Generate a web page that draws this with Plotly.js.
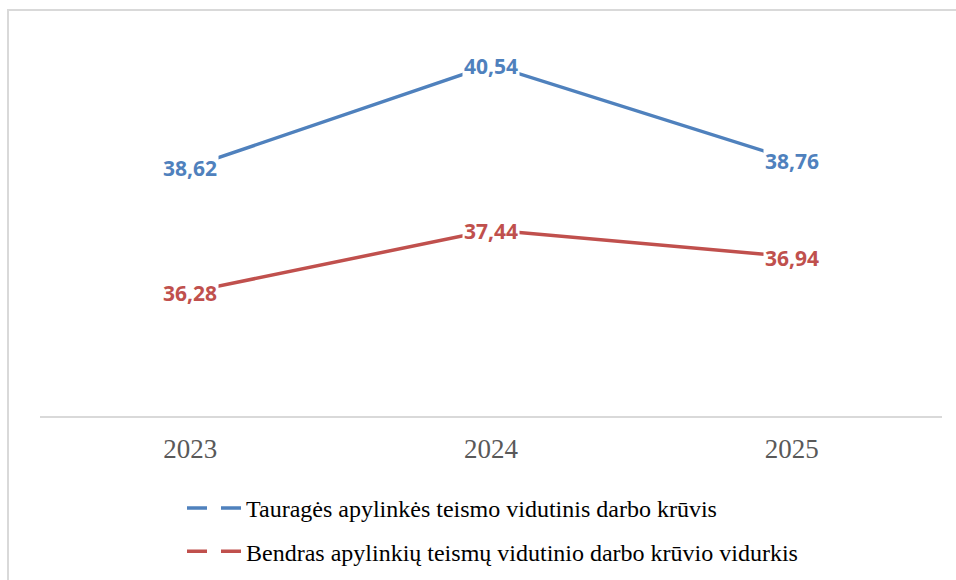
<!DOCTYPE html>
<html>
<head>
<meta charset="utf-8">
<script src="https://cdn.plot.ly/plotly-3.0.1.min.js"></script>
<style>html,body{margin:0;padding:0;background:#fff;}#chart{width:956px;height:580px;}</style>
</head>
<body>
<div id="chart"></div>
<script>
const years = ['2023', '2024', '2025'];
const taurageValues = [38.62, 40.54, 38.76];
const bendrasValues = [36.28, 37.44, 36.94];
const seriesNames = [
  'Tauragės apylinkės teismo vidutinis darbo krūvis',
  'Bendras apylinkių teismų vidutinio darbo krūvio vidurkis'
];
const seriesColors = ['#4F81BD', '#C0504D'];
const seriesValues = [taurageValues, bendrasValues];

const fmt = v => v.toFixed(2).replace('.', ',');
const serif = '"Liberation Serif", "Times New Roman", Times, serif';

const traces = [];
seriesValues.forEach((vals, i) => {
  traces.push({
    type: 'scatter', mode: 'lines', x: years, y: vals,
    line: {color: seriesColors[i], width: 3.5},
    showlegend: false, hoverinfo: 'skip'
  });
});
seriesValues.forEach((vals, i) => {
  traces.push({
    type: 'scatter', mode: 'lines', x: [null], y: [null],
    name: seriesNames[i], legendgroup: 'g' + i,
    line: {color: seriesColors[i], width: 3.5, dash: '20px,14px'},
    showlegend: true
  });
});

const annotations = [];
seriesValues.forEach((vals, i) => {
  vals.forEach((v, j) => {
    annotations.push({
      x: j, y: v, xref: 'x', yref: 'y', text: '<b>' + fmt(v) + '</b>', showarrow: false,
      bgcolor: '#ffffff', borderpad: 1,
      font: {family: '"Open Sans", "Noto Sans", sans-serif', size: 21, color: seriesColors[i]},
      xanchor: 'center', yanchor: 'middle', yshift: -1
    });
  });
});

const plotTop = 43, plotBottom = 416;
const layout = {
  width: 956, height: 580,
  margin: {l: 40, r: 14, t: plotTop, b: 580 - plotBottom},
  paper_bgcolor: '#ffffff', plot_bgcolor: '#ffffff',
  xaxis: {
    type: 'category', range: [-0.5, 2.5], showgrid: false, zeroline: false,
    showline: true, linecolor: '#d9d9d9', linewidth: 2, ticks: '',
    tickfont: {family: serif, size: 27, color: '#595959'},
    ticklabelstandoff: 8,
    fixedrange: true
  },
  yaxis: {range: [33.95, 40.95], visible: false, showgrid: false, zeroline: false, fixedrange: true},
  showlegend: true,
  legend: {
    orientation: 'v', x: (182 - 40) / 902, xanchor: 'left',
    yref: 'container', y: (580 - 486) / 580, yanchor: 'top',
    font: {family: serif, size: 24, color: '#000000'},
    tracegroupgap: 9, itemwidth: 54, bgcolor: 'rgba(0,0,0,0)'
  },
  annotations: annotations,
  shapes: [{
    type: 'rect', xref: 'paper', yref: 'paper',
    x0: (8 - 40) / 902, x1: 1.2, y0: -1, y1: (plotBottom - 10) / (plotBottom - plotTop),
    line: {color: '#d9d9d9', width: 2}, fillcolor: 'rgba(0,0,0,0)', layer: 'below'
  }]
};

Plotly.newPlot('chart', traces, layout, {displayModeBar: false, staticPlot: true});
</script>
</body>
</html>
